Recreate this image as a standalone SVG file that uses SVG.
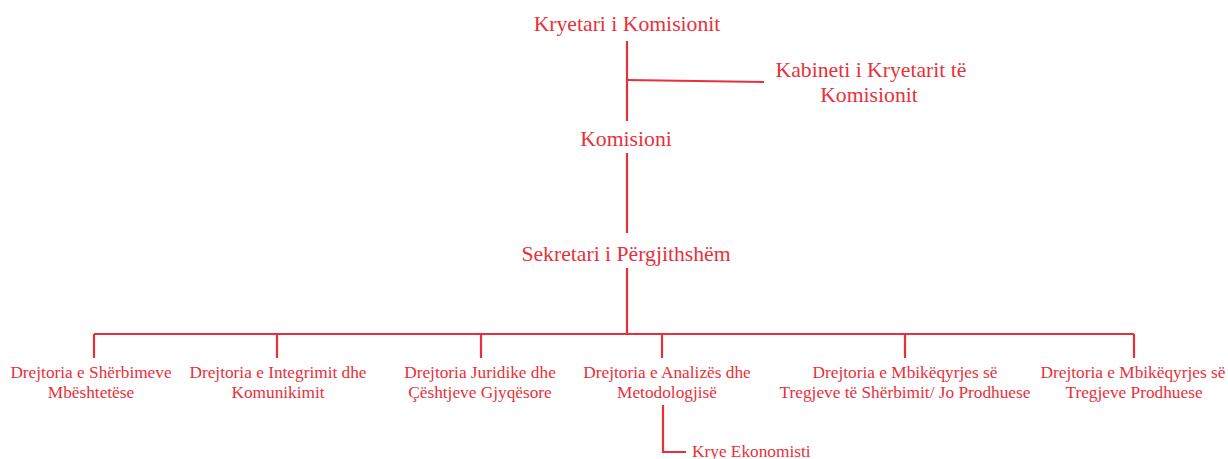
<svg xmlns="http://www.w3.org/2000/svg" width="1228" height="459" viewBox="0 0 1228 459">
<style>
text{font-family:"Liberation Serif","Times New Roman",serif;fill:#e8303a;text-anchor:middle}
.l{font-size:21.7px}
.s{font-size:17.3px}
.c{stroke:#e8303a;stroke-width:2.2;fill:none}
</style>
<rect width="1228" height="459" fill="#fff"/>
<g id="connectors" class="c">
<path d="M627 41V121"/>
<path d="M627 80L764 82"/>
<path d="M627 153V233"/>
<path d="M627 268V334"/>
<path d="M94 334H1134"/>
<path d="M94 334V358M277 334V358M481 334V358M662 334V358M905 334V358M1134 334V358"/>
<path d="M663 405V452H686"/>
</g>
<g id="n-kryetari"><text class="l" x="627" y="30.5">Kryetari i Komisionit</text></g>
<g id="n-kabineti"><text class="l" x="871" y="77">Kabineti i Kryetarit të</text><text class="l" x="869" y="102">Komisionit</text></g>
<g id="n-komisioni"><text class="l" x="626" y="145.5">Komisioni</text></g>
<g id="n-sekretari"><text class="l" x="626" y="260.5">Sekretari i Përgjithshëm</text></g>
<g id="n-d1"><text class="s" x="91" y="378">Drejtoria e Shërbimeve</text><text class="s" x="91" y="398">Mbështetëse</text></g>
<g id="n-d2"><text class="s" x="278" y="378">Drejtoria e Integrimit dhe</text><text class="s" x="278" y="398">Komunikimit</text></g>
<g id="n-d3"><text class="s" x="480" y="378">Drejtoria Juridike dhe</text><text class="s" x="480" y="398">Çështjeve Gjyqësore</text></g>
<g id="n-d4"><text class="s" x="667" y="378">Drejtoria e Analizës dhe</text><text class="s" x="667" y="398">Metodologjisë</text></g>
<g id="n-d5"><text class="s" x="905" y="378">Drejtoria e Mbikëqyrjes së</text><text class="s" x="905" y="398">Tregjeve të Shërbimit/ Jo Prodhuese</text></g>
<g id="n-d6"><text class="s" x="1133" y="378">Drejtoria e Mbikëqyrjes së</text><text class="s" x="1134" y="398">Tregjeve Prodhuese</text></g>
<g id="n-kryeek"><text class="s" x="692" y="457" style="text-anchor:start">Krye Ekonomisti</text></g>
</svg>
